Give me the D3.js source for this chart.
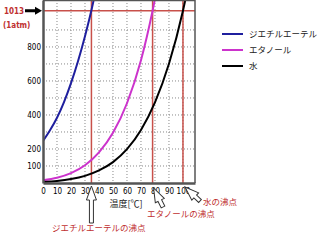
<!DOCTYPE html>
<html>
<head>
<meta charset="utf-8">
<script src="https://cdn.jsdelivr.net/npm/d3@7"></script>
<style>
  body { margin: 0; background: #fff; }
  svg { display: block; font-family: "Noto Sans CJK JP", sans-serif; }
</style>
</head>
<body>
<svg id="chart" width="320" height="241"></svg>
<script>
// vapor pressure curves (hPa)
const etherT = [0, 5, 10, 15, 20, 25, 30, 35, 40];
const etherP = [247, 310, 384, 476, 587, 716, 863, 1030, 1230];
const ethanolT = [0, 10, 20, 30, 40, 50, 60, 70, 78.3, 85];
const ethanolP = [16, 31, 58, 104, 180, 295, 469, 722, 1013, 1300];
const waterT = [0, 10, 20, 30, 40, 50, 60, 70, 80, 90, 100, 105];
const waterP = [6, 12, 23, 42, 74, 123, 199, 312, 474, 701, 1013, 1208];

const xTicks = [0, 10, 20, 30, 40, 50, 60, 70, 80, 90, 100];
const yTicks = [100, 200, 400, 600, 800];
const yGrid = [100, 200, 300, 400, 500, 600, 700, 800, 900];
const boilT = [34.6, 78.3, 100];
const atm = 1013;

const series = [
  { name: 'ジエチルエーテル', t: etherT, p: etherP, color: '#1f1f9e' },
  { name: 'エタノール', t: ethanolT, p: ethanolP, color: '#cc33cc' },
  { name: '水', t: waterT, p: waterP, color: '#000000' }
];

const svg = d3.select('#chart');
const pL = 43, pR = 195, pT = 0, pB = 183;

const x = d3.scaleLinear().domain([0, 108.6]).range([pL, pR]);
const y = d3.scaleLinear().domain([0, 1076]).range([pB, pT]);

svg.append('defs').append('clipPath').attr('id', 'clip')
  .append('rect').attr('x', pL).attr('y', pT)
  .attr('width', pR - pL).attr('height', pB - pT);

// dotted grid
svg.append('g').selectAll('line').data(xTicks.slice(1)).join('line')
  .attr('x1', d => x(d)).attr('x2', d => x(d))
  .attr('y1', pT).attr('y2', pB)
  .attr('stroke', '#888').attr('stroke-width', 1).attr('stroke-dasharray', '1,2');
svg.append('g').selectAll('line').data(yGrid).join('line')
  .attr('x1', pL).attr('x2', pR)
  .attr('y1', d => y(d)).attr('y2', d => y(d))
  .attr('stroke', '#888').attr('stroke-width', 1).attr('stroke-dasharray', '1,2');

// red reference lines
svg.append('line')
  .attr('x1', pL).attr('x2', pR).attr('y1', y(atm)).attr('y2', y(atm))
  .attr('stroke', '#c8504a').attr('stroke-width', 1.5);
svg.append('g').selectAll('line').data(boilT).join('line')
  .attr('x1', d => x(d)).attr('x2', d => x(d))
  .attr('y1', pT).attr('y2', pB)
  .attr('stroke', '#c8504a').attr('stroke-width', 1.5);

// curves
const line = d3.line().curve(d3.curveMonotoneX);
svg.append('g').attr('clip-path', 'url(#clip)')
  .selectAll('path').data(series).join('path')
  .attr('d', s => line(s.t.map((t, i) => [x(t), y(s.p[i])])))
  .attr('fill', 'none').attr('stroke', s => s.color).attr('stroke-width', 2);

// frame
svg.append('path')
  .attr('d', `M${pL},${pT + 0.5}H${pR}V${pB}`)
  .attr('fill', 'none').attr('stroke', '#555').attr('stroke-width', 1.5);

const xAxis = svg.append('g').attr('transform', `translate(0,${pB})`)
  .call(d3.axisBottom(x).tickValues(xTicks).tickSize(0).tickPadding(5));
const yAxis = svg.append('g').attr('transform', `translate(${pL},0)`)
  .call(d3.axisLeft(y).tickValues(yTicks).tickSize(0).tickPadding(2));
[xAxis, yAxis].forEach(a => {
  a.select('.domain').attr('stroke', '#555').attr('stroke-width', 2.5);
  a.selectAll('text').attr('font-size', 8).attr('fill', '#000')
    .attr('font-family', '"DejaVu Sans Condensed", "DejaVu Sans", sans-serif');
});

// 1013 (1atm) label and arrow
svg.append('text').attr('x', 4).attr('y', y(atm) + 3)
  .attr('font-size', 8).attr('font-weight', 'bold').attr('fill', '#c03030')
  .attr('font-family', '"DejaVu Sans Condensed", sans-serif').text('1013');
svg.append('text').attr('x', 3).attr('y', y(atm) + 17)
  .attr('font-size', 8).attr('font-weight', 'bold').attr('fill', '#c03030')
  .attr('font-family', '"DejaVu Sans Condensed", sans-serif').text('(1atm)');
const ay = y(atm);
svg.append('path')
  .attr('d', `M25,${ay - 1.5}H35V${ay - 4}L42,${ay}L35,${ay + 4}V${ay + 1.5}H25Z`)
  .attr('fill', '#000');

// axis title
svg.append('text').attr('x', 126).attr('y', 207).attr('text-anchor', 'middle')
  .attr('font-size', 9).attr('fill', '#222').text('温度[℃]');

// legend
const lg = svg.append('g').selectAll('g').data(series).join('g')
  .attr('transform', (d, i) => `translate(222,${34 + i * 16})`);
lg.append('line').attr('x1', 0).attr('x2', 21)
  .attr('stroke', d => d.color).attr('stroke-width', 2);
lg.append('text').attr('x', 27).attr('y', 3).attr('font-size', 8.5)
  .attr('fill', '#222').text(d => d.name);

// hollow arrows pointing at the boiling points
function hollowArrow(tx, ty, fx, fy) {
  const ang = Math.atan2(fy - ty, fx - tx) * 180 / Math.PI - 90;
  const len = Math.hypot(fx - tx, fy - ty);
  svg.append('path')
    .attr('transform', `translate(${tx},${ty}) rotate(${ang})`)
    .attr('d', `M0,0L5,14H2V${len}H-2V14H-5Z`)
    .attr('fill', '#fff').attr('stroke', '#333').attr('stroke-width', 1);
}
hollowArrow(x(boilT[0]), 186, x(boilT[0]), 223);
hollowArrow(x(boilT[1]) + 1, 188, 163, 207);
hollowArrow(x(boilT[2]) + 2, 187, 200, 201);

const red = '#c03030';
const notes = [
  { text: 'ジエチルエーテルの沸点', x: 52, y: 231 },
  { text: 'エタノールの沸点', x: 147, y: 217 },
  { text: '水の沸点', x: 203, y: 205 }
];
svg.append('g').selectAll('text').data(notes).join('text')
  .attr('x', d => d.x).attr('y', d => d.y)
  .attr('font-size', 8.5).attr('fill', red).text(d => d.text);
</script>
</body>
</html>
